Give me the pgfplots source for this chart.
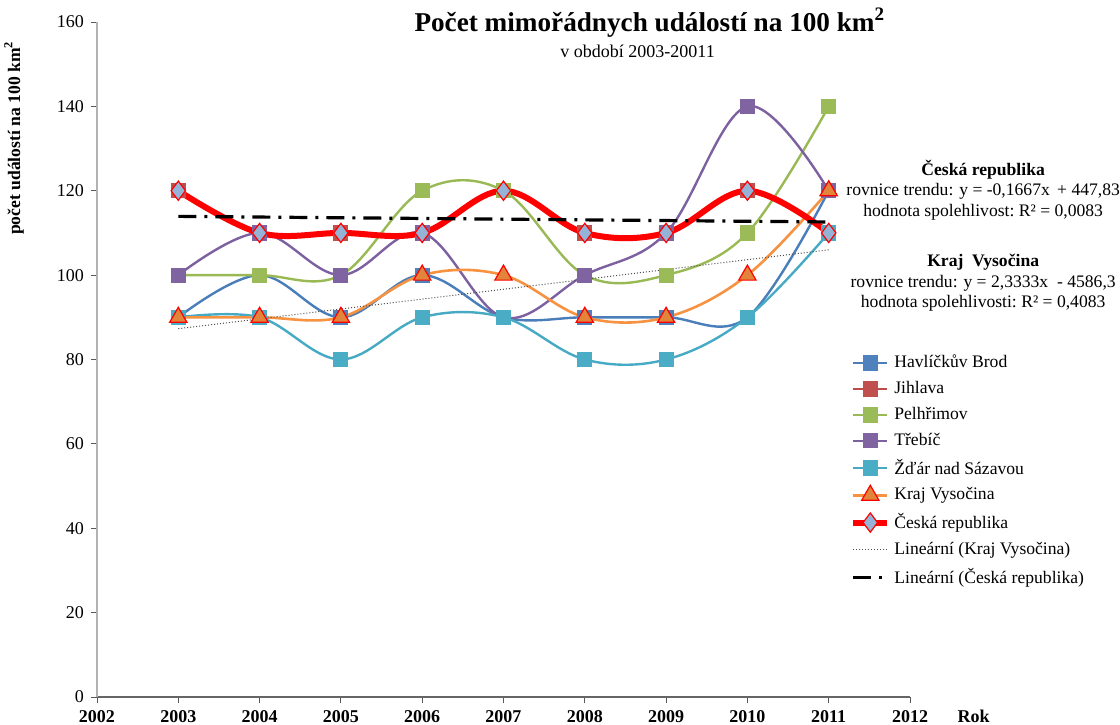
\documentclass[border=0pt]{standalone}
\usepackage{pgfplots}
\pgfplotsset{compat=1.18}
\usepackage{fontspec}
\setmainfont{Liberation Serif}
\definecolor{hbL}{HTML}{4A7EBB}\definecolor{hbM}{HTML}{4F81BD}
\definecolor{jiL}{HTML}{BE4B48}\definecolor{jiM}{HTML}{C0504D}
\definecolor{peL}{HTML}{98B954}\definecolor{peM}{HTML}{9BBB59}
\definecolor{trL}{HTML}{7D60A0}\definecolor{trM}{HTML}{8064A2}
\definecolor{zdL}{HTML}{46AAC5}\definecolor{zdM}{HTML}{4BACC6}
\definecolor{kvL}{HTML}{F69240}\definecolor{kvM}{HTML}{E2843A}
\definecolor{crM}{HTML}{95B3D7}
\begin{document}
\begin{tikzpicture}
\path[use as bounding box] (-48.5pt,-13.5pt) rectangle (511.5pt,348.5pt);
\begin{axis}[
  at={(0,0)}, anchor=south west,
  scale only axis, width=406.5pt, height=337.5pt,
  xmin=2002, xmax=2012, ymin=0, ymax=160,
  xtick={2002,2003,...,2012}, ytick={0,20,...,160},
  minor tick num=0,
  tick align=outside, tick pos=left,
  major tick length=3pt,
  axis x line*=bottom, axis y line*=left,
  x axis line style={draw=gray!80!black, line width=0.8pt, -},
  y axis line style={draw=gray!60, line width=0.6pt, -},
  every tick/.style={gray!70!black},
  /pgf/number format/assume math mode=true,
  /pgf/number format/1000 sep={},
  xticklabel style={font=\fontsize{9}{10}\selectfont\bfseries},
  yticklabel style={font=\fontsize{9}{10}\selectfont},
  clip=false,
  legend style={at={(0.926,0.513)}, anchor=north west, draw=none, fill=none,
    font=\fontsize{8.8}{9.5}\selectfont, row sep=1.3pt, inner sep=0pt},
  legend cell align=left,
  every axis plot/.append style={smooth, tension=0.6},
]
\addplot[hbL, line width=1.2pt, mark=square*, mark size=3.2pt, mark options={fill=hbM, draw=hbM, solid}]
  coordinates {(2003,90)(2004,100)(2005,90)(2006,100)(2007,90)(2008,90)(2009,90)(2010,90)(2011,120)};
\addlegendentry{Havlíčkův Brod}
\addplot[jiL, line width=1.2pt, mark=square*, mark size=3.2pt, mark options={fill=jiM, draw=jiM, solid}]
  coordinates {(2003,120)(2004,110)(2005,110)(2006,110)(2007,120)(2008,110)(2009,110)(2010,120)(2011,110)};
\addlegendentry{Jihlava}
\addplot[peL, line width=1.2pt, mark=square*, mark size=3.2pt, mark options={fill=peM, draw=peM, solid}]
  coordinates {(2003,100)(2004,100)(2005,100)(2006,120)(2007,120)(2008,100)(2009,100)(2010,110)(2011,140)};
\addlegendentry{Pelhřimov}
\addplot[trL, line width=1.2pt, mark=square*, mark size=3.2pt, mark options={fill=trM, draw=trM, solid}]
  coordinates {(2003,100)(2004,110)(2005,100)(2006,110)(2007,90)(2008,100)(2009,110)(2010,140)(2011,120)};
\addlegendentry{Třebíč}
\addplot[zdL, line width=1.2pt, mark=square*, mark size=3.2pt, mark options={fill=zdM, draw=zdM, solid}]
  coordinates {(2003,90)(2004,90)(2005,80)(2006,90)(2007,90)(2008,80)(2009,80)(2010,90)(2011,110)};
\addlegendentry{Žďár nad Sázavou}
\addplot[kvL, line width=1.3pt, mark=triangle*, mark size=5pt, mark options={fill=kvM, draw=red, line width=0.6pt, solid}]
  coordinates {(2003,90)(2004,90)(2005,90)(2006,100)(2007,100)(2008,90)(2009,90)(2010,100)(2011,120)};
\addlegendentry{Kraj Vysočina}
\addplot[red, line width=3pt, mark=diamond*, mark size=4.8pt, mark options={fill=crM, draw=red, line width=0.6pt, solid}]
  coordinates {(2003,120)(2004,110)(2005,110)(2006,110)(2007,120)(2008,110)(2009,110)(2010,120)(2011,110)};
\addlegendentry{Česká republika}
\addplot[black!70, line width=0.5pt, densely dotted, sharp plot]
  coordinates {(2003,87.3)(2011,106.0)};
\addlegendentry{Lineární (Kraj Vysočina)}
\addplot[black, line width=1.6pt, dash pattern=on 9pt off 4pt on 1.5pt off 4pt, sharp plot]
  coordinates {(2003,113.93)(2011,112.6)};
\addlegendentry{Lineární (Česká republika)}

\node[font=\fontsize{13.6}{15}\selectfont\bfseries] at (axis cs:2008.8,159.9) {Počet mimořádnych událostí na 100 km\textsuperscript{2}};
\node[font=\fontsize{9}{10}\selectfont] at (axis cs:2008.65,153.0) {v období 2003-20011};
\node[rotate=90, font=\fontsize{8.8}{9}\selectfont\bfseries] at (axis cs:2000.98,132.5) {počet událostí na 100 km\textsuperscript{2}};
\node[font=\fontsize{9}{10}\selectfont\bfseries, anchor=west] at (axis cs:2012.5,-4.6) {Rok};
\node[font=\fontsize{8.8}{10.3}\selectfont, align=center] at (axis cs:2012.9,120.2)
  {\textbf{Česká republika}\\ rovnice trendu: y = -0,1667x \,+ 447,83\\ hodnota spolehlivost:\ R² = 0,0083};
\node[font=\fontsize{8.8}{10.3}\selectfont, align=center] at (axis cs:2012.9,98.2)
  {\textbf{Kraj\ \ Vysočina}\\ rovnice trendu: y = 2,3333x \ - 4586,3\\ hodnota spolehlivosti:\ R² = 0,4083};
\end{axis}
\end{tikzpicture}
\end{document}
